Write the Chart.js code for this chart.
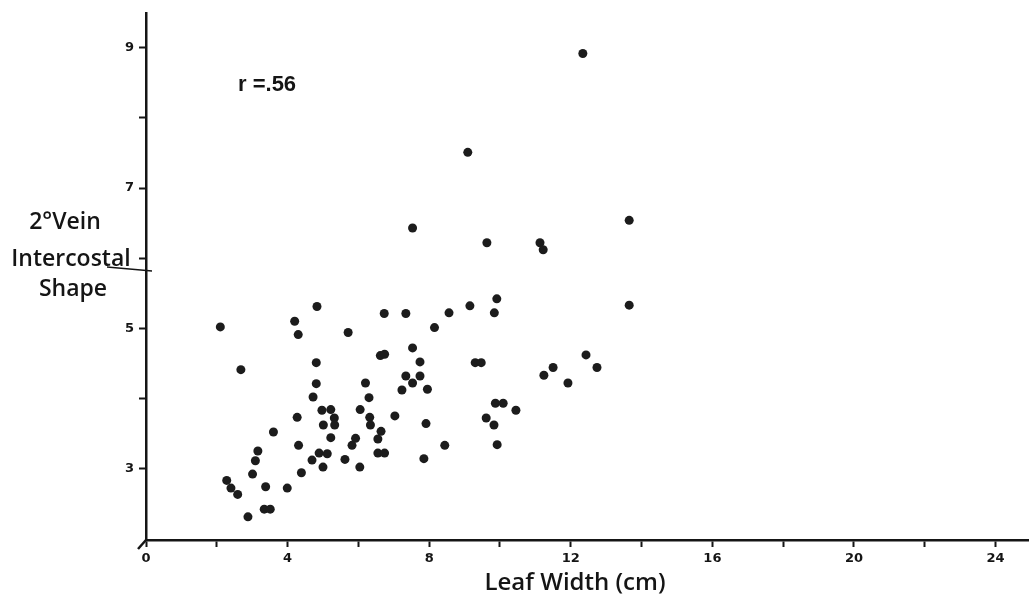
<!DOCTYPE html>
<html lang="en">
<head>
    <meta charset="UTF-8">
    <title>Leaf Width vs 2° Vein Intercostal Shape</title>
    <script src="https://cdn.jsdelivr.net/npm/chart.js"></script>
    <style>
        body {
            margin: 0;
            background: #fff;
        }

        #scatter {
            display: block;
        }
    </style>
</head>
<body>
    <canvas id="scatter" width="1033" height="600"></canvas>

    <script>
        // leaf width (cm) and intercostal shape, one entry per leaf
        const leafWidth = [
            2.10, 2.68, 12.34, 9.09, 13.65, 7.53, 11.13, 11.22, 9.63, 13.65,
            9.91, 9.84, 9.15, 8.56, 7.34, 8.15, 7.53, 4.83, 4.20, 4.30,
            5.71, 6.73, 4.81, 6.62, 6.74, 7.74, 9.30, 9.47, 4.81, 6.20,
            7.34, 7.74, 7.53, 7.23, 7.95, 4.72, 6.30, 4.97, 5.22, 6.05,
            5.32, 4.27, 6.32, 7.03, 5.01, 5.33, 6.34, 7.91, 3.60, 6.64,
            5.22, 5.92, 6.55, 4.31, 5.82, 8.44, 3.16, 3.09, 4.89, 5.12,
            6.55, 6.74, 4.69, 5.62, 7.85, 5.00, 6.04, 4.39, 3.01, 2.28,
            2.40, 2.59, 3.38, 3.99, 3.34, 3.51, 2.88, 9.87, 10.09, 10.45,
            9.61, 9.83, 9.92, 12.43, 12.74, 11.50, 11.24, 11.92
        ];
        const veinShape = [
            5.02, 4.41, 8.92, 7.51, 6.54, 6.43, 6.22, 6.12, 6.22, 5.33,
            5.42, 5.22, 5.32, 5.22, 5.21, 5.01, 4.72, 5.31, 5.10, 4.91,
            4.94, 5.21, 4.51, 4.61, 4.63, 4.52, 4.51, 4.51, 4.21, 4.22,
            4.32, 4.32, 4.22, 4.12, 4.13, 4.02, 4.01, 3.83, 3.84, 3.84,
            3.72, 3.73, 3.73, 3.75, 3.62, 3.62, 3.62, 3.64, 3.52, 3.53,
            3.44, 3.43, 3.42, 3.33, 3.33, 3.33, 3.25, 3.11, 3.22, 3.21,
            3.22, 3.22, 3.12, 3.13, 3.14, 3.02, 3.02, 2.94, 2.92, 2.83,
            2.72, 2.63, 2.74, 2.72, 2.42, 2.42, 2.31, 3.93, 3.93, 3.83,
            3.72, 3.62, 3.34, 4.62, 4.44, 4.44, 4.33, 4.22
        ];

        const xTicks = [0, 2, 4, 6, 8, 10, 12, 14, 16, 18, 20, 22, 24];
        const xLabelled = [0, 4, 8, 12, 16, 20, 24];
        const yTicks = [3, 4, 5, 6, 7, 8, 9];
        const yLabelled = [3, 5, 7, 9];

        const rText = "r =.56";
        const yTitle = ["2°Vein", "Intercostal", "Shape"];
        const xTitle = "Leaf Width (cm)";

        const points = leafWidth.map((w, i) => ({ x: w, y: veinShape[i] }));

        const ink = "#151515";
        const labelFont = '600 23px "Open Sans", "DejaVu Sans", sans-serif';
        const tickFont = { family: '"DejaVu Sans", sans-serif', size: 13, weight: "bold" };

        // hand lettering: correlation note, stacked y title, x title
        const lettering = {
            id: "lettering",
            afterDraw(chart) {
                const ctx = chart.ctx;
                ctx.save();
                ctx.fillStyle = ink;

                ctx.font = 'bold 22px "Liberation Sans", Arial, sans-serif';
                ctx.textAlign = "left";
                ctx.textBaseline = "alphabetic";
                ctx.fillText(rText, 238, 91);

                ctx.font = labelFont;
                ctx.textAlign = "center";
                ctx.fillText(yTitle[0], 65, 229);
                ctx.fillText(yTitle[1], 71, 266);
                ctx.fillText(yTitle[2], 73, 296);

                ctx.font = '600 24px "Open Sans", "DejaVu Sans", sans-serif';
                ctx.fillText(xTitle, 575, 590);

                // pointer line from the title to the axis
                ctx.strokeStyle = ink;
                ctx.lineWidth = 1.5;
                ctx.beginPath();
                ctx.moveTo(107, 267);
                ctx.lineTo(152, 271);
                ctx.stroke();

                // little stub at the origin corner
                const a = chart.chartArea;
                ctx.lineWidth = 2.5;
                ctx.beginPath();
                ctx.moveTo(a.left, a.bottom);
                ctx.lineTo(a.left - 8, a.bottom + 9);
                ctx.stroke();
                ctx.restore();
            }
        };

        new Chart(document.getElementById("scatter"), {
            type: "scatter",
            data: {
                datasets: [{
                    data: points,
                    pointRadius: 4.5,
                    pointHoverRadius: 4.5,
                    pointBackgroundColor: "#1c1c1c",
                    pointBorderColor: "#1c1c1c",
                    pointBorderWidth: 0
                }]
            },
            options: {
                responsive: false,
                animation: false,
                events: [],
                layout: { padding: { top: 10, right: 0, left: 0, bottom: 0 } },
                plugins: {
                    legend: { display: false },
                    tooltip: { enabled: false }
                },
                scales: {
                    x: {
                        type: "linear",
                        min: 0,
                        max: 24.93,
                        afterBuildTicks: s => { s.ticks = xTicks.map(v => ({ value: v })); },
                        afterFit: s => { s.height = 60; },
                        border: { display: true, color: ink, width: 2.5 },
                        grid: {
                            drawOnChartArea: false,
                            drawTicks: true,
                            tickLength: 7,
                            tickColor: ink,
                            tickWidth: 2
                        },
                        ticks: {
                            autoSkip: false,
                            maxRotation: 0,
                            padding: 4,
                            color: ink,
                            font: tickFont,
                            callback: v => xLabelled.includes(v) ? String(v) : ""
                        }
                    },
                    y: {
                        type: "linear",
                        min: 1.98,
                        max: 9.5,
                        afterBuildTicks: s => { s.ticks = yTicks.map(v => ({ value: v })); },
                        afterFit: s => { s.width = 146; },
                        border: { display: true, color: ink, width: 2.5 },
                        grid: {
                            drawOnChartArea: false,
                            drawTicks: true,
                            tickLength: 7,
                            tickColor: ink,
                            tickWidth: 2
                        },
                        ticks: {
                            autoSkip: false,
                            padding: 5,
                            color: ink,
                            font: tickFont,
                            callback: v => yLabelled.includes(v) ? String(v) : ""
                        }
                    }
                }
            },
            plugins: [lettering]
        });
    </script>
</body>
</html>
